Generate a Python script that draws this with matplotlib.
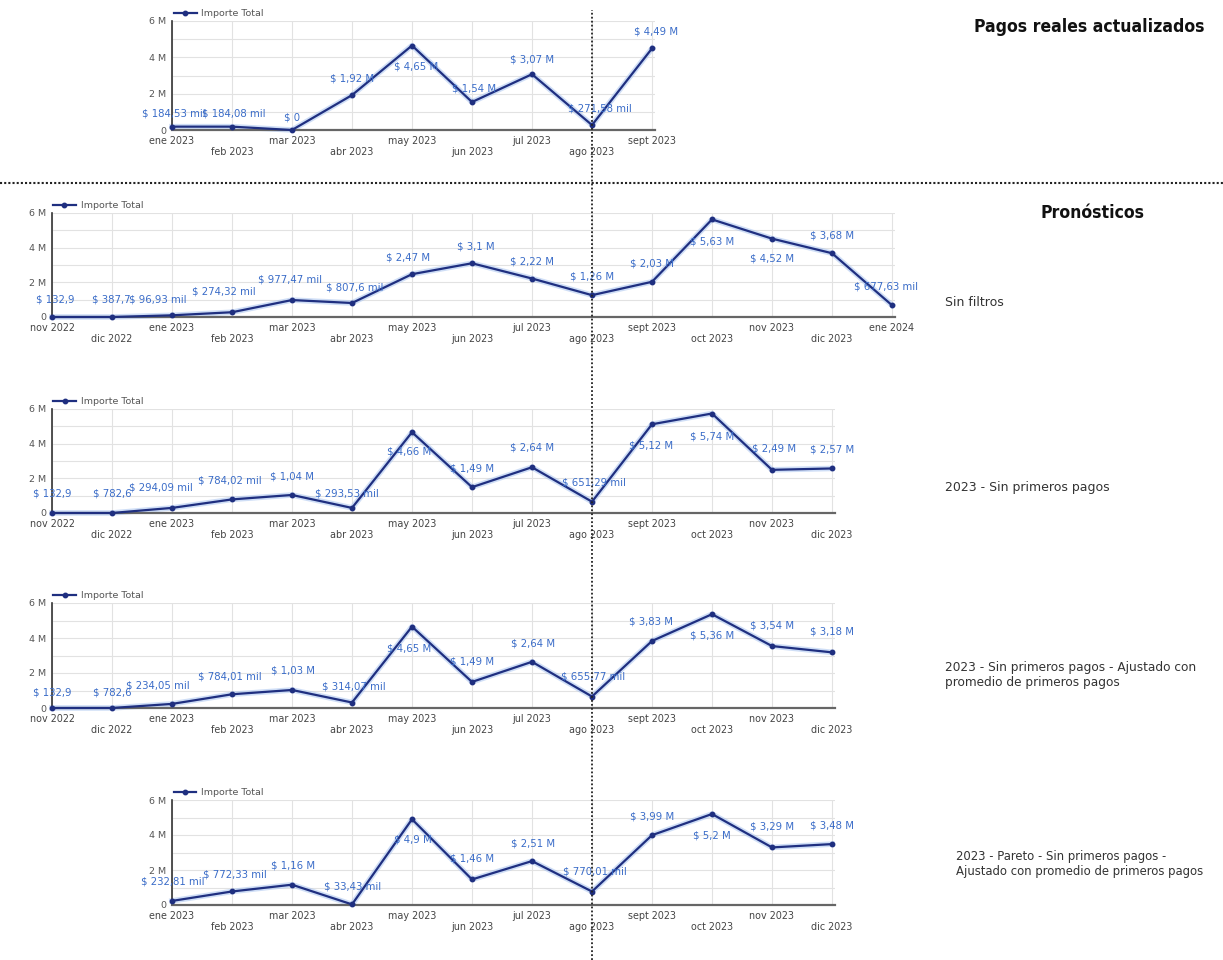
import matplotlib
matplotlib.use("Agg")
import matplotlib.pyplot as plt
from matplotlib.lines import Line2D
from matplotlib.transforms import Bbox, TransformedBbox

W, H = 1223, 960

months = ["nov 2022", "dic 2022", "ene 2023", "feb 2023", "mar 2023", "abr 2023",
          "may 2023", "jun 2023", "jul 2023", "ago 2023", "sept 2023", "oct 2023",
          "nov 2023", "dic 2023", "ene 2024"]

# pagos reales (ene 2023 - sept 2023)
real_vals = [184530, 184080, 0, 1.92e6, 4.65e6, 1.54e6, 3.07e6, 271580, 4.49e6]
# pronosticos
sinfiltro_vals = [132.9, 387.7, 96930, 274320, 977470, 807600, 2.47e6, 3.1e6, 2.22e6,
                  1.26e6, 2.03e6, 5.63e6, 4.52e6, 3.68e6, 677630]
sinprim_vals = [132.9, 782.6, 294090, 784020, 1.04e6, 293530, 4.66e6, 1.49e6, 2.64e6,
                651290, 5.12e6, 5.74e6, 2.49e6, 2.57e6]
ajust_vals = [132.9, 782.6, 234050, 784010, 1.03e6, 314070, 4.65e6, 1.49e6, 2.64e6,
              655770, 3.83e6, 5.36e6, 3.54e6, 3.18e6]
pareto_vals = [232810, 772330, 1.16e6, 33430, 4.9e6, 1.46e6, 2.51e6, 770010, 3.99e6,
               5.2e6, 3.29e6, 3.48e6]

titles = ["Sin filtros", "2023 - Sin primeros pagos",
          "2023 - Sin primeros pagos - Ajustado con\npromedio de primeros pagos",
          "2023 - Pareto - Sin primeros pagos -\nAjustado con promedio de primeros pagos"]

# label offsets (pixels) for each point, negative dy = label below the point
real_offs = [(2, 13), (2, 13), (0, 12), (0, 17), (4, -21), (2, 14), (0, 15), (8, 17), (4, 17)]
sinfiltro_offs = [(3, 17), (-1, 17), (-14, 16), (-8, 21), (-2, 21), (3, 16), (-4, 17),
                  (4, 17), (0, 17), (0, 19), (0, 18), (0, -22), (0, -20), (0, 18), (-6, 19)]
sinprim_offs = [(0, 19), (0, 19), (-11, 20), (-2, 19), (0, 18), (-5, 14), (-3, -19),
                (0, 19), (0, 20), (2, 19), (-1, -21), (0, -23), (2, 21), (0, 19)]
ajust_offs = [(0, 15), (0, 15), (-14, 18), (-2, 18), (1, 19), (2, 16), (-3, -22),
              (0, 20), (1, 18), (1, 20), (-1, 19), (0, -21), (0, 21), (0, 21)]
pareto_offs = [(1, 19), (3, 17), (1, 19), (1, 18), (1, -20), (0, 21), (1, 18), (3, 20),
               (0, 19), (0, -21), (0, 21), (0, 19)]

LINE = "#1f2f80"
LBL = "#3a6cc8"


def money(v):
    if v >= 1e6:
        s = "%.2f" % (v / 1e6)
        suf = " M"
    elif v >= 1000:
        s = "%.2f" % (v / 1000)
        suf = " mil"
    else:
        s = "%.1f" % v
        suf = ""
    s = s.rstrip("0").rstrip(".")
    return "$ " + s.replace(".", ",") + suf


def ylab(v, pos=None):
    if v == 0:
        return "0"
    return "%d M" % round(v / 1e6)


fig = plt.figure(figsize=(W / 100, H / 100), dpi=100)


def panel(start, vals, offs, zero_px, top_px, clip_x=None):
    end = start + len(vals) - 1
    left = (52 + 60 * start) / W
    width = 60 * (end - start + 0.05) / W
    ax = fig.add_axes([left, 1 - zero_px / H, width, (zero_px - top_px) / H])
    xs = list(range(start, end + 1))
    ax.plot(xs, vals, color="#a9c4f0", lw=4, alpha=0.55, clip_on=False, zorder=2)
    ax.plot(xs, vals, color=LINE, lw=1.6, marker="o", ms=3.2, clip_on=False,
            zorder=3, label="Importe Total")
    for x, v, (dx, dy) in zip(xs, vals, offs):
        t = ax.annotate(money(v), (x, v), xytext=(dx, dy), textcoords="offset pixels",
                        ha="center", va="center", fontsize=7.3, color=LBL,
                        annotation_clip=False, zorder=4)
        if clip_x is not None:
            t.set_clip_on(True)
            t.set_clip_box(TransformedBbox(Bbox.from_extents(0, 0, clip_x / W, 1),
                                           fig.transFigure))
    ax.set_xlim(start, end + 0.05)
    ax.set_ylim(0, 6e6)
    ax.set_xticks(xs)
    ax.set_xticklabels([months[i] if i % 2 == 0 else "\n" + months[i] for i in xs],
                       fontsize=6.9, color="#444")
    ax.set_yticks([0, 2e6, 4e6, 6e6])
    ax.set_yticks([1e6, 3e6, 5e6], minor=True)
    ax.set_yticklabels([ylab(v) for v in [0, 2e6, 4e6, 6e6]], fontsize=6.8, color="#555")
    ax.tick_params(axis="both", length=0, pad=4)
    ax.tick_params(axis="y", which="minor", length=0)
    ax.grid(True, which="both", color="#e2e2e2", lw=0.8)
    ax.set_axisbelow(True)
    for s in ["top", "right"]:
        ax.spines[s].set_visible(False)
    ax.spines["left"].set_color("#333")
    ax.spines["left"].set_linewidth(1.2)
    ax.spines["bottom"].set_color("#666")
    ax.spines["bottom"].set_linewidth(1.6)
    leg = ax.legend(loc="lower left", bbox_to_anchor=(-0.002, 1.0), borderaxespad=0.3,
                    frameon=False, fontsize=6.8, handlelength=2.4, handletextpad=0.5,
                    borderpad=0)
    for txt in leg.get_texts():
        txt.set_color("#555")
    return ax


panel(2, real_vals, real_offs, 130, 21)
panel(0, sinfiltro_vals, sinfiltro_offs, 317, 213, clip_x=920)
panel(0, sinprim_vals, sinprim_offs, 513, 409)
panel(0, ajust_vals, ajust_offs, 708, 603)
panel(2, pareto_vals, pareto_offs, 905, 800)

# separators
fig.add_artist(Line2D([0, 1], [1 - 183 / H] * 2, transform=fig.transFigure,
                      color="#222", lw=1.5, ls=(0, (1, 1))))
fig.add_artist(Line2D([592 / W] * 2, [0, 1 - 10 / H], transform=fig.transFigure,
                      color="#222", lw=1.3, ls=(0, (1, 1.2))))

head = dict(fontsize=12.6, fontweight="heavy", fontstretch="condensed", color="#111",
            family=["Liberation Sans Narrow", "DejaVu Sans"], va="center")
fig.text(1205 / W, 1 - 27 / H, "Pagos reales actualizados", ha="right", **head)
fig.text(1092 / W, 1 - 213 / H, "Pronósticos", ha="center", **head)

side_y = [302, 487, 675, 864]
side_x = [945, 945, 945, 956]
side_fs = [9.0, 9.0, 8.7, 8.4]
for t, y, x, fs in zip(titles, side_y, side_x, side_fs):
    fig.text(x / W, 1 - y / H, t, ha="left", va="center", fontsize=fs, color="#333",
             linespacing=1.2)

fig.savefig("out.png", dpi=100)
